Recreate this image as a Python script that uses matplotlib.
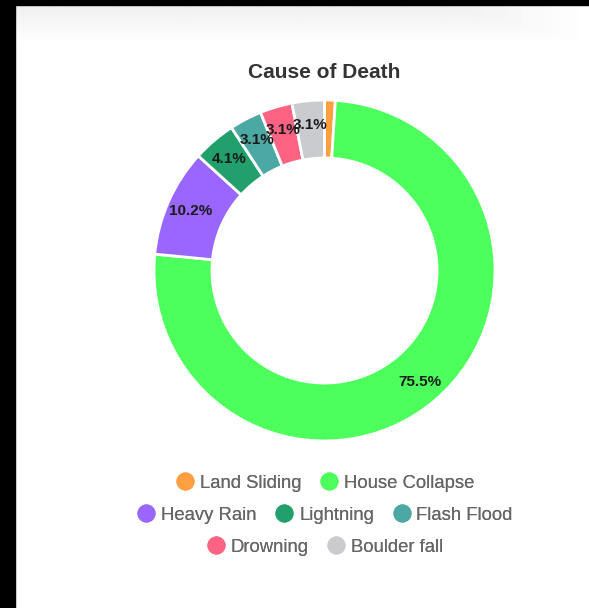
import matplotlib.pyplot as plt
import numpy as np
from matplotlib.lines import Line2D
from matplotlib.patches import Rectangle

plt.rcParams['font.family'] = ['Liberation Sans', 'DejaVu Sans']

# deaths by cause
causes = ['Land Sliding', 'House Collapse', 'Heavy Rain', 'Lightning',
          'Flash Flood', 'Drowning', 'Boulder fall']
deaths = [1, 74, 10, 4, 3, 3, 3]
colors = ['#FF9F40', '#4DFF5C', '#9966FF', '#22A06B', '#4BA8A3', '#FF6384', '#C9CBCF']
legend_rows = [[0, 1], [2, 3, 4], [5, 6]]

W, H = 589, 608
fig = plt.figure(figsize=(W / 100, H / 100), dpi=100)
fig.patch.set_facecolor('white')

# screenshot frame: faint grey band at top, black strips on top and left
grad = fig.add_axes([15 / W, 1 - 45 / H, 1 - 15 / W, 40 / H])
g = np.linspace(0.94, 1.0, 40)[:, None] * np.ones((1, 200))
g[:, 150:] = np.maximum(g[:, 150:], np.linspace(0.94, 1.0, 50)[None, :])
grad.imshow(g, cmap='gray', vmin=0, vmax=1, aspect='auto')
grad.axis('off')
fig.patches.append(Rectangle((0, 0), 15 / W, 1, transform=fig.transFigure, color='black', zorder=10))
fig.patches.append(Rectangle((0, 1 - 5 / H), 1, 5 / H, transform=fig.transFigure, color='black', zorder=10))

# donut
cx, cy, R = 324.5, 270.5, 170.5
ax = fig.add_axes([(cx - R) / W, 1 - (cy + R) / H, 2 * R / W, 2 * R / H])
ring = 0.34
wedges, _ = ax.pie(deaths, colors=colors, startangle=90, counterclock=False,
                   radius=1, wedgeprops=dict(width=ring, edgecolor='white', linewidth=2))
ax.set_xlim(-1, 1)
ax.set_ylim(-1, 1)
ax.set_aspect('equal')
ax.axis('off')

total = sum(deaths)
for w, v in zip(wedges, deaths):
    pct = 100 * v / total
    if pct < 2:
        continue
    ang = np.deg2rad((w.theta1 + w.theta2) / 2)
    r = 0.86
    ax.text(r * np.cos(ang), r * np.sin(ang), f'{pct:.1f}%', ha='center', va='center',
            fontsize=11, fontweight='bold', color='#1a1a1a')

fig.text(cx / W, 1 - 72 / H, 'Cause of Death', ha='center', va='center',
         fontsize=15, fontweight='bold', color='#333333')

# legend, three centered rows
row_y = [483, 515, 547]
for row, y in zip(legend_rows, row_y):
    handles = [Line2D([], [], marker='o', linestyle='none', markersize=12,
                      markerfacecolor=colors[i], markeredgecolor=colors[i]) for i in row]
    leg = fig.legend(handles, [causes[i] for i in row], loc='center',
                     bbox_to_anchor=(325 / W, 1 - y / H), ncol=len(row), frameon=False,
                     fontsize=13.3, handlelength=1.0, handletextpad=0.3,
                     columnspacing=1.0, borderpad=0, borderaxespad=0)
    for t in leg.get_texts():
        t.set_color('#666666')
    fig.add_artist(leg)

fig.savefig('out.png', dpi=100)
